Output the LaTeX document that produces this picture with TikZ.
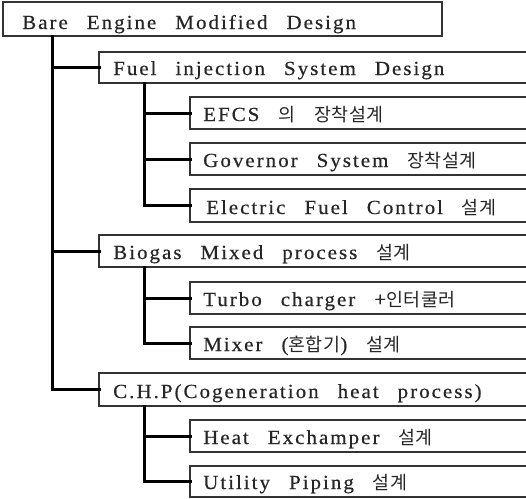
\documentclass[tikz,border=0pt]{standalone}
\usepackage{fontspec}
\setmainfont{Liberation Serif}[LetterSpace=10,FakeStretch=1.05,FakeBold=0.5]
\newfontfamily\kr{Noto Sans CJK KR}[LetterSpace=3,Scale=0.92]
\newcommand\lblfont{\fontsize{20}{23}\selectfont}
\newcommand\wsp{\hspace{19pt}}
\begin{document}
\begin{tikzpicture}[x=1pt,y=-1pt,
  lbl/.style={anchor=base west,inner sep=0pt,font=\lblfont,text=black!85},
  conn/.style={line width=3pt,line cap=rect},
  frame/.style={draw=black!80,line width=1.1pt}]
\useasboundingbox (0,0) rectangle (526,498);
\clip (0,0) rectangle (526,498);
% boxes
\draw[frame] (3,2) rectangle (442,36);
\node[lbl] (root) at (22,29) {Bare\wsp Engine\wsp Modified\wsp Design};
\coordinate (rootb) at (52,36);
\foreach \n/\x/\t/\b in {fuel/99/52/83, efcs/190/97/129, gov/190/143/175, elec/190/189/222,
  bio/99/235/267, turbo/190/282/314, mixer/190/327/359, chp/99/373/406,
  heat/190/420/452, util/190/466/497}{
  \draw[frame] (\x,\t) rectangle (560,\b);
  \coordinate (\n w) at (\x,{(\t+\b)/2});
}
\node[lbl] (fuelt) at (113,75) {Fuel\wsp injection\wsp System\wsp Design};
\node[lbl] (efcst) at (203,121) {EFCS\wsp{\kr 의}\wsp{\kr 장착설계}};
\node[lbl] (govt) at (203,167) {Governor\wsp System\wsp{\kr 장착설계}};
\node[lbl] (elect) at (206,214) {Electric\wsp Fuel\wsp Control\wsp{\kr 설계}};
\node[lbl] (biot) at (113,259) {Biogas\wsp Mixed\wsp process\wsp{\kr 설계}};
\node[lbl] (turbot) at (203,306) {Turbo\wsp charger\wsp+{\kr 인터쿨러}};
\node[lbl] (mixert) at (203,351) {Mixer\wsp({\kr 혼합기})\wsp{\kr 설계}};
\node[lbl] (chpt) at (113,398) {C.H.P(Cogeneration\wsp heat\wsp process)};
\node[lbl] (heatt) at (203,444) {Heat\wsp Exchamper\wsp{\kr 설계}};
\node[lbl] (utilt) at (203,489) {Utility\wsp Piping\wsp{\kr 설계}};
% connectors
\draw[conn] (rootb) |- (chpw);
\draw[conn] (rootb |- fuelw) -- (fuelw);
\draw[conn] (rootb |- biow) -- (biow);
\coordinate (f1) at (144,83);
\coordinate (f2) at (144,267);
\coordinate (f3) at (144,406);
\draw[conn] (f1) |- (elecw);
\draw[conn] (f1 |- efcsw) -- (efcsw);
\draw[conn] (f1 |- govw) -- (govw);
\draw[conn] (f2) |- (mixerw);
\draw[conn] (f2 |- turbow) -- (turbow);
\draw[conn] (f3) |- (utilw);
\draw[conn] (f3 |- heatw) -- (heatw);
\end{tikzpicture}
\end{document}
